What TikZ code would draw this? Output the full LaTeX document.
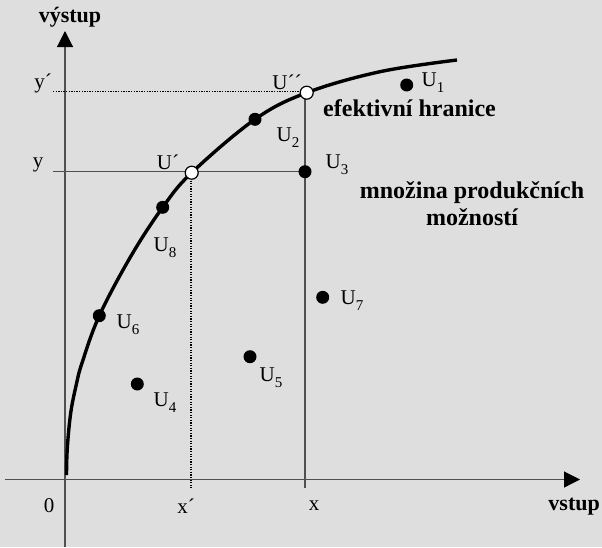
\documentclass[tikz,border=0pt]{standalone}
\usepackage{fontspec}
\setmainfont{Liberation Serif}
\usetikzlibrary{arrows.meta}
\definecolor{bg}{HTML}{DEDEDE}
\definecolor{axc}{HTML}{505050}
\newcommand{\sbs}[1]{\raisebox{-0.28em}{\fontsize{15}{15}\selectfont #1}}
\begin{document}
\begin{tikzpicture}[x=1pt,y=-1pt,
  lbl/.style={inner sep=0pt,font=\fontsize{21}{24}\selectfont},
  blbl/.style={inner sep=0pt,font=\fontsize{22}{27}\selectfont\bfseries},
  bblbl/.style={inner sep=0pt,font=\fontsize{24}{27}\selectfont\bfseries},
  axis/.style={draw=axc,line width=1.2pt,-{Triangle[length=16pt,width=16pt,color=black]}},
  thin/.style={draw=axc,line width=1.1pt},
  dotln/.style={draw=black,line width=1.3pt,dash pattern=on 1.3pt off 1.3pt},
  curve/.style={draw=black,line width=3.4pt},
  fdot/.style={circle,fill=black,inner sep=0pt,minimum size=13pt},
  odot/.style={circle,fill=white,draw=black,line width=1.2pt,inner sep=0pt,minimum size=13pt}]
\fill[bg] (0,0) rectangle (602,547);
\useasboundingbox (0,0) rectangle (602,547);
% axes
\coordinate (ybot) at (65,547);
\coordinate (ytop) at (65,31);
\coordinate (xleft) at (5,479.5);
\coordinate (xright) at (580,479.5);
\draw[axis] (ybot) -- (ytop);
\draw[axis] (xleft) -- (xright);
% guide lines
\coordinate (ypstart) at (53,91.7);
\coordinate (ystart) at (53,171.7);
\coordinate (xbot) at (305,488);
\coordinate (xpbot) at (191,488);
\coordinate (xtop) at (305,92.7);
\draw[dotln] (ypstart) -- (306.7,91.7);
\draw[thin] (ystart) -- (305,171.7);
\draw[thin] (xbot) -- (xtop);
\draw[dotln] (191,172.7) -- (xpbot);
% curve
\draw[curve] plot[smooth,tension=0.6] coordinates {(66.5,475) (67.3,448) (70.7,413) (76.2,385) (82,363) (99.3,315.7) (131,256) (162.7,207.3) (191.7,172.7) (255,119.3) (306.7,92.7) (380,71.7) (457,60)};
% points
\node[fdot] (u1) at (406.7,85) {};
\node[fdot] (u2) at (255,119.3) {};
\node[fdot] (u3) at (305,171.7) {};
\node[fdot] (u4) at (137.3,384) {};
\node[fdot] (u5) at (250,356.7) {};
\node[fdot] (u6) at (99.3,315.7) {};
\node[fdot] (u7) at (322.7,297.3) {};
\node[fdot] (u8) at (162.7,207.3) {};
\node[odot] (up) at (191.7,172.7) {};
\node[odot] (upp) at (306.7,92.7) {};
% labels
\node[lbl] (l1) at (433,83) {U\sbs{1}};
\node[lbl] (l2) at (288,138) {U\sbs{2}};
\node[lbl] (l3) at (337,165) {U\sbs{3}};
\node[lbl] (l4) at (165,403) {U\sbs{4}};
\node[lbl] (l5) at (271,378) {U\sbs{5}};
\node[lbl] (l6) at (128,325) {U\sbs{6}};
\node[lbl] (l7) at (352,301) {U\sbs{7}};
\node[lbl] (l8) at (165,248) {U\sbs{8}};
\node[lbl] (lp) at (168,162) {U´};
\node[lbl] (lpp) at (287,82) {U´´};
\node[lbl] (ly) at (38,165) {y};
\node[lbl] (lyp) at (43,83) {y´};
\node[lbl] (l0) at (49,506) {0};
\node[lbl] (lxp) at (186,506) {x´};
\node[lbl] (lx) at (314,506) {x};
\node[blbl,anchor=east] (vstup) at (600,507) {vstup};
\node[blbl] (vystup) at (70,17) {výstup};
\node[bblbl,anchor=west] (ef) at (323,108) {efektivní hranice};
\node[bblbl,align=center] (mn) at (472,204) {množina produkčních\\možností};
\end{tikzpicture}
\end{document}
